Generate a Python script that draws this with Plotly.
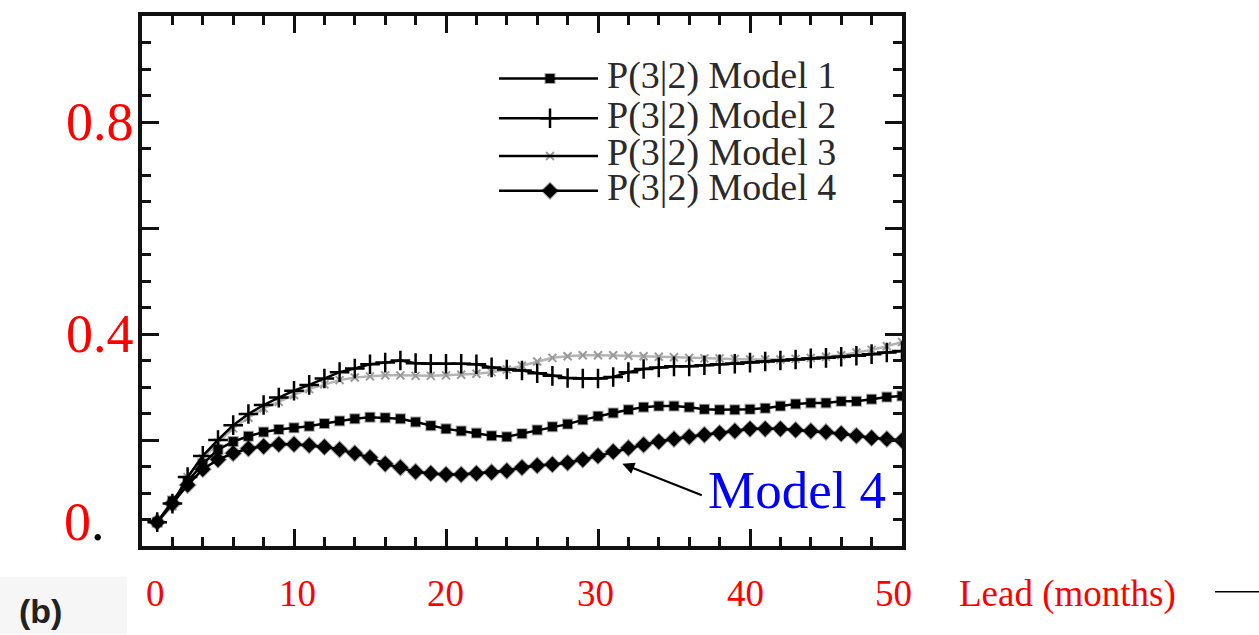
import plotly.graph_objects as go

# Lead time in months
lead = list(range(1, 51))

# P(3|2) skill for each model
model1 = [0.045, 0.085, 0.122, 0.155, 0.182, 0.197, 0.207, 0.215, 0.220, 0.223,
          0.226, 0.231, 0.236, 0.240, 0.243, 0.242, 0.240, 0.234, 0.227, 0.221,
          0.217, 0.213, 0.208, 0.206, 0.212, 0.219, 0.225, 0.230, 0.238, 0.245,
          0.251, 0.257, 0.262, 0.264, 0.264, 0.262, 0.258, 0.257, 0.257, 0.258,
          0.260, 0.264, 0.268, 0.270, 0.270, 0.273, 0.273, 0.277, 0.281, 0.283]
model2 = [0.045, 0.080, 0.130, 0.170, 0.200, 0.228, 0.249, 0.266, 0.280, 0.293,
          0.304, 0.316, 0.328, 0.335, 0.343, 0.346, 0.350, 0.345, 0.344, 0.344,
          0.344, 0.343, 0.337, 0.333, 0.331, 0.326, 0.321, 0.317, 0.316, 0.316,
          0.319, 0.328, 0.334, 0.337, 0.339, 0.339, 0.341, 0.343, 0.344, 0.346,
          0.348, 0.350, 0.352, 0.354, 0.355, 0.357, 0.359, 0.362, 0.365, 0.368]
model3 = [0.045, 0.075, 0.130, 0.165, 0.195, 0.222, 0.242, 0.260, 0.272, 0.285,
          0.296, 0.305, 0.313, 0.318, 0.320, 0.322, 0.322, 0.321, 0.321, 0.322,
          0.323, 0.325, 0.328, 0.333, 0.340, 0.348, 0.355, 0.358, 0.360, 0.360,
          0.360, 0.359, 0.358, 0.357, 0.356, 0.355, 0.354, 0.354, 0.353, 0.352,
          0.352, 0.352, 0.353, 0.355, 0.357, 0.360, 0.365, 0.370, 0.377, 0.385]
model4 = [0.045, 0.080, 0.115, 0.145, 0.163, 0.175, 0.184, 0.188, 0.192, 0.192,
          0.190, 0.187, 0.182, 0.175, 0.167, 0.155, 0.148, 0.140, 0.137, 0.135,
          0.135, 0.137, 0.139, 0.142, 0.148, 0.152, 0.154, 0.157, 0.163, 0.170,
          0.178, 0.185, 0.191, 0.197, 0.202, 0.206, 0.210, 0.213, 0.217, 0.221,
          0.221, 0.221, 0.219, 0.217, 0.215, 0.212, 0.208, 0.204, 0.202, 0.199]

legend_labels = ["P(3|2) Model 1", "P(3|2) Model 2", "P(3|2) Model 3", "P(3|2) Model 4"]
y_tick_labels = ["0.8", "0.4"]
y_tick_values = [0.8, 0.4]
x_tick_labels = ["0", "10", "20", "30", "40", "50"]

W, H = 1259, 635
L, R, T, B = 142, 902, 12, 546  # plot area in pixels


def px(x):
    return (x - L) / (R - L)


def py(y):
    return (B - y) / (B - T)


serif = "Liberation Serif"
halo = "rgba(0,0,0,0.35)"

styles = [
    dict(line=dict(color="black", width=2.5),
         marker=dict(symbol="square", size=9, color="black", line=dict(color=halo, width=2))),
    dict(line=dict(color="black", width=2.5),
         marker=dict(symbol="cross-thin", size=14, color="black", line=dict(color="black", width=2.5))),
    dict(line=dict(color="#b4b4b4", width=2.5),
         marker=dict(symbol="x-thin", size=8, color="#9a9a9a", line=dict(color="#9a9a9a", width=2))),
    dict(line=dict(color="black", width=2.5),
         marker=dict(symbol="diamond", size=12, color="black", line=dict(color=halo, width=2))),
]

fig = go.Figure()
series = [model1, model2, model3, model4]
# draw model 3 first so the black curves sit on top of it
for i in [2, 1, 0, 3]:
    fig.add_trace(go.Scatter(x=lead, y=series[i], mode="lines+markers",
                             name=legend_labels[i], showlegend=False, **styles[i]))

# legend drawn in paper space: a line sample, a marker and a label per row
leg_rows = [75, 115, 153, 188]
for i, (lab, yr) in enumerate(zip(legend_labels, leg_rows)):
    fig.add_shape(type="line", xref="paper", yref="paper",
                  x0=px(499), x1=px(598), y0=py(yr), y1=py(yr),
                  line=dict(color="black", width=2.5))
    st = styles[i]["marker"]
    fig.add_trace(go.Scatter(x=[px(550)], y=[py(yr)], mode="markers", xaxis="x2", yaxis="y2",
                             marker=st, showlegend=False, hoverinfo="skip"))
    fig.add_annotation(x=px(605), y=py(yr - 3), xref="paper", yref="paper", text=lab,
                       showarrow=False, xanchor="left", yanchor="middle",
                       font=dict(family=serif, size=38, color="#2a2a2a"))

# red tick labels
for lab, v in zip(y_tick_labels, y_tick_values):
    fig.add_annotation(x=px(136), y=v, xref="paper", yref="y", text=lab, showarrow=False,
                       xanchor="right", yanchor="middle",
                       font=dict(family=serif, size=54, color="red"))
fig.add_annotation(x=px(62), y=py(522), xref="paper", yref="paper",
                   text="<span style='color:red'>0</span>.", showarrow=False,
                   xanchor="left", yanchor="middle",
                   font=dict(family=serif, size=54, color="black"))

x_label_px = [155, 297, 445, 595, 745, 893]
for lab, xp in zip(x_tick_labels, x_label_px):
    fig.add_annotation(x=px(xp), y=py(594), xref="paper", yref="paper", text=lab,
                       showarrow=False, xanchor="center", yanchor="middle",
                       font=dict(family=serif, size=37, color="red"))
fig.add_annotation(x=px(957), y=py(594), xref="paper", yref="paper", text="Lead (months)",
                   showarrow=False, xanchor="left", yanchor="middle",
                   font=dict(family=serif, size=37, color="red"))
fig.add_shape(type="line", xref="paper", yref="paper", x0=px(1215), x1=px(1259),
              y0=py(592), y1=py(592), line=dict(color="black", width=1.5))

# panel tag
fig.add_shape(type="rect", xref="paper", yref="paper", x0=px(0), x1=px(127), y0=py(577), y1=py(635),
              line=dict(width=0), fillcolor="#f6f6f6", layer="below")
fig.add_annotation(x=px(40), y=py(611), xref="paper", yref="paper", text="<b>(b)</b>",
                   showarrow=False, xanchor="center", yanchor="middle",
                   font=dict(family="Liberation Sans", size=34, color="#222"))

# call-out for the Model 4 curve (tail offset given in pixels from the tip)
fig.add_annotation(x=31.6, y=0.155, xref="x", yref="y", ax=81, ay=32,
                   text="", showarrow=True, arrowhead=2, arrowsize=1.2,
                   arrowwidth=2, arrowcolor="black", standoff=0)
fig.add_annotation(x=px(706), y=py(490), xref="paper", yref="paper", text="Model 4",
                   showarrow=False, xanchor="left", yanchor="middle",
                   font=dict(family=serif, size=53, color="blue"))

axis_common = dict(showgrid=False, zeroline=False, showline=True, linecolor="#111",
                   linewidth=3.5, mirror="allticks", ticks="inside", ticklen=17,
                   tickwidth=3, tickcolor="#111", showticklabels=False)
fig.update_layout(
    width=W, height=H,
    margin=dict(l=L, r=W - R, t=T, b=H - B),
    paper_bgcolor="white", plot_bgcolor="white",
    showlegend=False,
    xaxis=dict(range=[0, 50], tick0=0, dtick=10,
               minor=dict(dtick=2, ticklen=9, tickwidth=3, tickcolor="#111", ticks="inside"),
               **axis_common),
    yaxis=dict(range=[0, 1], tick0=0, dtick=0.2,
               minor=dict(dtick=0.05, ticklen=9, tickwidth=3, tickcolor="#111", ticks="inside"),
               **axis_common),
    xaxis2=dict(range=[0, 1], overlaying="x", visible=False),
    yaxis2=dict(range=[0, 1], overlaying="y", visible=False),
)

fig.write_html("out.html")
